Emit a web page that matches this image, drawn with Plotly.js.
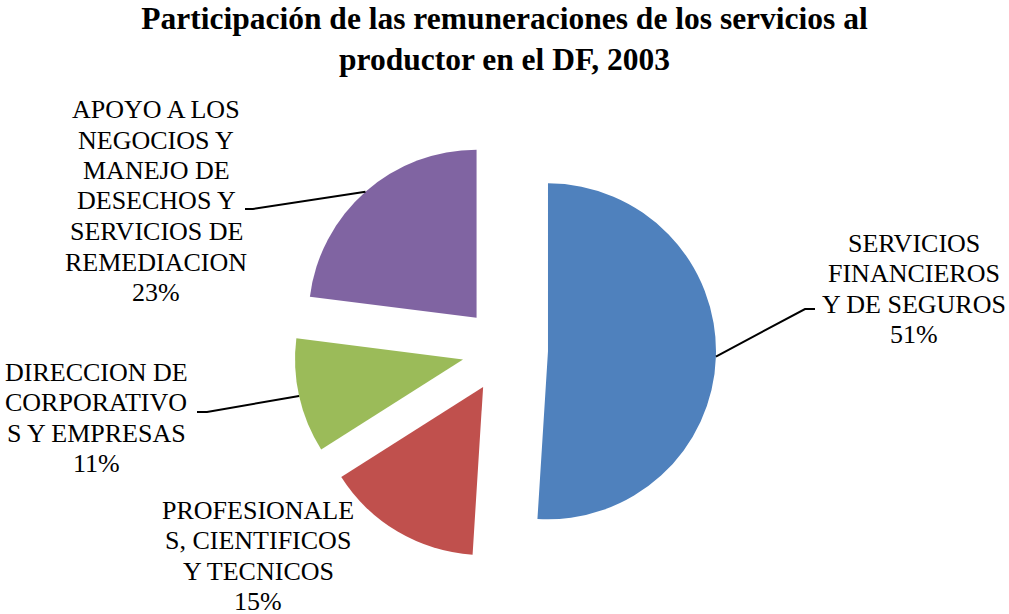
<!DOCTYPE html>
<html>
<head>
<meta charset="utf-8">
<script src="https://cdn.plot.ly/plotly-3.0.1.min.js"></script>
<style>html,body{margin:0;padding:0;background:#fff;}#chart{width:1009px;height:614px;}</style>
</head>
<body>
<div id="chart"></div>
<script>
// Data
const categories = [
  "SERVICIOS FINANCIEROS Y DE SEGUROS",
  "PROFESIONALES, CIENTIFICOS Y TECNICOS",
  "DIRECCION DE CORPORATIVOS Y EMPRESAS",
  "APOYO A LOS NEGOCIOS Y MANEJO DE DESECHOS Y SERVICIOS DE REMEDIACION"
];
const values = [51, 15, 11, 23];
const labelLines = [
  ["SERVICIOS", "FINANCIEROS", "Y DE SEGUROS"],
  ["PROFESIONALE", "S, CIENTIFICOS", "Y TECNICOS"],
  ["DIRECCION DE", "CORPORATIVO", "S Y EMPRESAS"],
  ["APOYO A LOS", "NEGOCIOS Y", "MANEJO DE", "DESECHOS Y", "SERVICIOS DE", "REMEDIACION"]
];
const colors = ["#4F81BD", "#C0504D", "#9BBB59", "#8064A2"];

// Layout geometry (pixels)
const W = 1009, H = 614;
const cx = 505, cy = 350, R = 168, pull = 0.256;
const half = R * (1 + pull);
const px = x => x / W;
const py = y => 1 - y / H;
const SERIF = "Liberation Serif";
const LINE_STEP = 30.5;

// label placement (pixel centres of each block) and leader elbows
const labelPos = [[914, 289], [258, 556], [96, 418], [156, 201]];
const leaderEnd = [[[805, 309], [815, 309]], null, [[207, 412], [197, 412]], [[253, 209], [245, 209]]];

const total = values.reduce((a, b) => a + b, 0);
const annotations = [];
const shapes = [];
let cum = 0;
values.forEach((v, i) => {
  const pct = Math.round(v / total * 100) + "%";
  const lines = labelLines[i].concat([pct]);
  const y0 = labelPos[i][1] - (lines.length - 1) * LINE_STEP / 2;
  lines.forEach((s, k) => {
    annotations.push({
      xref: "paper", yref: "paper",
      x: px(labelPos[i][0]), y: py(y0 + k * LINE_STEP),
      xanchor: "center", yanchor: "middle", align: "center",
      showarrow: false,
      text: s,
      font: {family: SERIF, size: 26, color: "#000"}
    });
  });
  const mid = (cum + v / 2) / total * 2 * Math.PI;
  cum += v;
  if (leaderEnd[i]) {
    const sx = cx + R * (1 + pull) * Math.sin(mid);
    const sy = cy - R * (1 + pull) * Math.cos(mid);
    const pts = [[sx, sy]].concat(leaderEnd[i]);
    shapes.push({
      type: "path", xref: "paper", yref: "paper",
      path: pts.map((p, k) => (k ? "L" : "M") + px(p[0]) + "," + py(p[1])).join(" "),
      line: {color: "#000", width: 2}
    });
  }
});

const trace = {
  type: "pie",
  labels: categories,
  values: values,
  sort: false,
  direction: "clockwise",
  rotation: 0,
  pull: values.map(() => pull),
  marker: {colors: colors, line: {width: 0}},
  textinfo: "none",
  hoverinfo: "label+percent",
  showlegend: false,
  domain: {x: [px(cx - half), px(cx + half)], y: [py(cy + half), py(cy - half)]}
};

const layout = {
  width: W, height: H,
  margin: {l: 0, r: 0, t: 0, b: 0},
  paper_bgcolor: "#fff",
  font: {family: SERIF, color: "#000"},
  title: {
    text: "<b>Participación de las remuneraciones de los servicios al<br>productor en el DF, 2003</b>",
    font: {family: SERIF, size: 31.5, color: "#000"},
    x: 0.5, xanchor: "center", y: 0.953, yanchor: "top", yref: "container"
  },
  annotations: annotations,
  shapes: shapes,
  showlegend: false
};

Plotly.newPlot("chart", [trace], layout, {displayModeBar: false, staticPlot: true});
</script>
</body>
</html>
